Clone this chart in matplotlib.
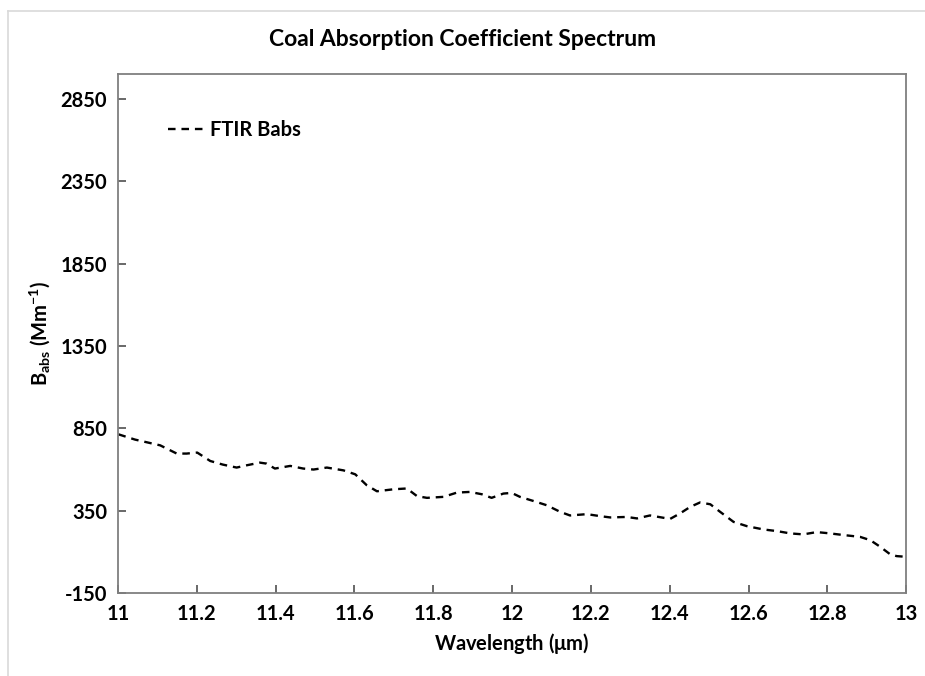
#!/usr/bin/env python3
"""Coal absorption coefficient spectrum (FTIR), 11-13 um."""

import matplotlib
matplotlib.use("Agg")
import matplotlib.pyplot as plt
from matplotlib.lines import Line2D

# FTIR Babs spectrum (wavelength in um, Babs in Mm^-1)
wavelength = [
    11.001, 11.043, 11.107, 11.149, 11.174, 11.201, 11.234, 11.266, 11.301,
    11.327, 11.360, 11.377, 11.398, 11.437, 11.470, 11.496, 11.530, 11.572,
    11.602, 11.631, 11.657, 11.699, 11.733, 11.759, 11.784, 11.826, 11.860,
    11.893, 11.923, 11.948, 11.978, 11.999, 12.020, 12.054, 12.088, 12.122,
    12.147, 12.190, 12.223, 12.249, 12.291, 12.317, 12.350, 12.401, 12.426,
    12.452, 12.477, 12.503, 12.528, 12.562, 12.596, 12.638, 12.672, 12.706,
    12.739, 12.773, 12.807, 12.841, 12.883, 12.909, 12.934, 12.959, 12.976,
    12.999,
]
babs = [
    814, 782, 747, 697, 697, 703, 652, 630, 612,
    626, 642, 636, 606, 622, 606, 600, 612, 595,
    571, 505, 468, 480, 485, 438, 428, 434, 460,
    464, 450, 428, 454, 458, 434, 409, 383, 343,
    321, 329, 317, 309, 312, 303, 321, 300, 333,
    373, 400, 389, 343, 282, 256, 236, 226, 212,
    206, 220, 212, 202, 191, 171, 131, 86, 74,
    70,
]

x_ticks = [11, 11.2, 11.4, 11.6, 11.8, 12, 12.2, 12.4, 12.6, 12.8, 13]
x_tick_labels = ["11", "11.2", "11.4", "11.6", "11.8", "12", "12.2", "12.4", "12.6", "12.8", "13"]
y_ticks = [-150, 350, 850, 1350, 1850, 2350, 2850]

plt.rcParams["font.family"] = ["Lato", "DejaVu Sans"]
plt.rcParams["font.weight"] = "bold"
plt.rcParams["axes.unicode_minus"] = False
plt.rcParams["mathtext.fontset"] = "custom"
plt.rcParams["mathtext.rm"] = "Lato:bold"
plt.rcParams["mathtext.bf"] = "Lato:bold"
plt.rcParams["mathtext.default"] = "bf"

fig = plt.figure(figsize=(9.25, 6.76), dpi=100)
ax = fig.add_axes([0.1276, 0.1228, 0.852, 0.767])

ax.plot(wavelength, babs, color="black", lw=1.7,
        linestyle=(0, (3.2, 2.5)), label="FTIR Babs")

ax.set_xlim(11, 13)
ax.set_ylim(-150, 3000)
ax.set_xticks(x_ticks)
ax.set_xticklabels(x_tick_labels)
ax.set_yticks(y_ticks)

for sp in ax.spines.values():
    sp.set_color("#7f7f7f")
    sp.set_linewidth(1.3)
ax.tick_params(direction="in", length=6, width=1.1, color="#404040",
               labelsize=14.5, pad=8)
for lab in ax.get_xticklabels() + ax.get_yticklabels():
    lab.set_fontweight("bold")

fig.text(0.5, 1 - 40 / 676, "Coal Absorption Coefficient Spectrum",
         fontsize=16.5, fontweight="bold", ha="center", va="center")
ax.set_xlabel(r"Wavelength ($\mu$m)", fontsize=14.5, fontweight="bold", labelpad=5)
ax.set_ylabel(r"B$_{abs}$ (Mm$^{-1}$)", fontsize=14.5, fontweight="bold", labelpad=6)

leg = ax.legend(loc="upper left", bbox_to_anchor=(0.04, 0.948), frameon=False,
                fontsize=14.5, handlelength=2.0, handletextpad=0.1)
for t in leg.get_texts():
    t.set_fontweight("bold")

# light chart-area frame along the top and left edges
fx, fy = 7.5 / 925, 1 - 10.5 / 676
fig.add_artist(Line2D([fx, fx], [0, fy], transform=fig.transFigure,
                      color="#d9d9d9", lw=1.2))
fig.add_artist(Line2D([fx, 1], [fy, fy], transform=fig.transFigure,
                      color="#d9d9d9", lw=1.2))

fig.savefig("out.png", dpi=100)
